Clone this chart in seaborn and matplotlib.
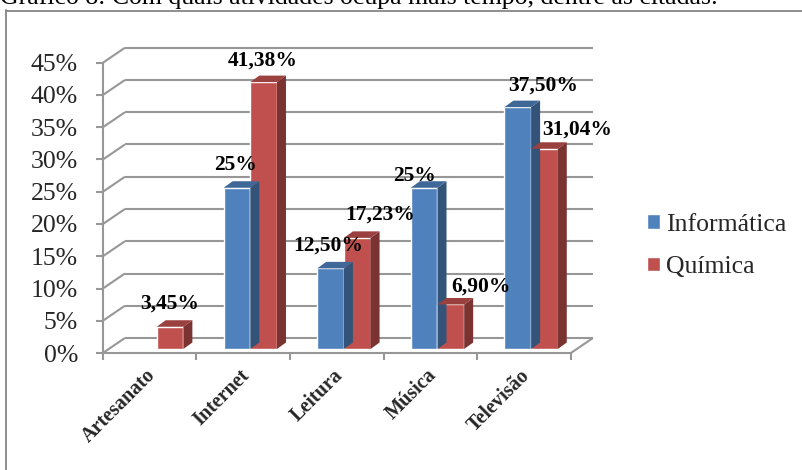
import matplotlib
matplotlib.use("Agg")
import matplotlib.pyplot as plt
from matplotlib.patches import Polygon
from matplotlib.lines import Line2D
from matplotlib.transforms import ScaledTranslation
import numpy as np
import pandas as pd
import seaborn as sns

# ---- data -------------------------------------------------------------
categorias = ["Artesanato", "Internet", "Leitura", "Música", "Televisão"]
cursos = ["Informática", "Química"]
informatica = [0.0, 25.0, 12.50, 25.0, 37.50]
quimica = [3.45, 41.38, 17.23, 6.90, 31.04]
yticks = [0, 5, 10, 15, 20, 25, 30, 35, 40, 45]
titulo = "Gráfico 8: Com quais atividades ocupa mais tempo, dentre as citadas:"

cores = {"Informática": "#4F81BD", "Química": "#C0504D"}

# label nudges in pixels (dx, dy) relative to the top centre of each bar
nudge = {
    "Informática": [(0, 0), (-1, 23), (-2, 23), (-10, 12), (25, 22)],
    "Química": [(0, 23), (-1, 22), (23, 23), (30, 18), (33, 19)],
}

df = pd.DataFrame({
    "atividade": categorias * 2,
    "curso": [cursos[0]] * len(categorias) + [cursos[1]] * len(categorias),
    "valor": informatica + quimica,
})

# ---- figure / geometry -------------------------------------------------
W, H, DPI = 803, 470, 100
sns.set_theme(style="white")
plt.rcParams["font.family"] = ["Liberation Serif", "DejaVu Serif"]

fig = plt.figure(figsize=(W / DPI, H / DPI), dpi=DPI)

XLIM = (-0.7, 4.7)
YLIM = (-3.0, 48.0)
px_x = 93.6      # pixels per category
px_y = 6.45      # pixels per percent
x0_px = 156.7    # pixel column of the first category
y0_px = 349.0    # pixel row of the 0% level of the bars

left = x0_px + XLIM[0] * px_x
right = x0_px + XLIM[1] * px_x
bottom = y0_px - YLIM[0] * px_y
top = y0_px - YLIM[1] * px_y


def axes_rect(dx=0.0, dy=0.0):
    return [(left + dx) / W, 1 - (bottom + dy) / H,
            (right - left) / W, (bottom - top) / H]


ax = fig.add_axes(axes_rect())
ax.set_xlim(*XLIM)
ax.set_ylim(*YLIM)

# depth offsets (in pixels) for the back wall, the front plane and the bars
back_px = (15.0, 11.0)
front_px = (-7.0, -4.0)
depth_px = (9.0, 6.5)


def to_data(d):
    return d[0] / px_x, d[1] / px_y


bx, by = to_data(back_px)
fx, fy = to_data(front_px)
ddx, ddy = to_data(depth_px)

grid_kw = dict(color="#979797", lw=1.5, solid_capstyle="butt", zorder=0.5)

# back wall gridlines and left side wall
for v in yticks:
    ax.plot([-0.5 + bx, 4.5 + bx], [v + by, v + by], **grid_kw)
    ax.plot([-0.5 + fx, -0.5 + bx], [v + fy, v + by], **grid_kw)
# floor right edge
ax.plot([4.5 + fx, 4.5 + bx], [fy, by], **grid_kw)

# ---- bars --------------------------------------------------------------
sns.barplot(data=df, x="atividade", y="valor", hue="curso",
            hue_order=cursos, order=categorias, palette=cores,
            width=0.57, saturation=1, ax=ax, legend=True, zorder=2)
ax.set_xlim(*XLIM)
ax.set_ylim(*YLIM)

for p in ax.patches:
    h = p.get_height()
    if not np.isfinite(h) or h <= 0:
        continue
    xa = p.get_x()
    xb = xa + p.get_width()
    c = np.array(p.get_facecolor()[:3])
    side = Polygon([(xb, 0), (xb + ddx, ddy), (xb + ddx, h + ddy), (xb, h)],
                   closed=True, facecolor=c * 0.64, edgecolor="none", zorder=2)
    topf = Polygon([(xa, h), (xb, h), (xb + ddx, h + ddy), (xa + ddx, h + ddy)],
                   closed=True, facecolor=c * 0.8, edgecolor="none", zorder=2)
    ax.add_patch(side)
    ax.add_patch(topf)


def fmt(v):
    if float(v).is_integer():
        return f"{int(v)}%"
    return f"{v:.2f}".replace(".", ",") + "%"


# value labels
for i, curso in enumerate(cursos):
    vals = informatica if curso == "Informática" else quimica
    cont = ax.containers[i]
    for j, (bar, v) in enumerate(zip(cont, vals)):
        if v <= 0:
            continue
        cx = bar.get_x() + bar.get_width() / 2
        ndx, ndy = nudge[curso][j]
        ax.annotate(fmt(v), (cx, v), xytext=(ndx, ndy),
                    textcoords="offset pixels", ha="center", va="center",
                    fontsize=15.5, fontweight="bold", color="black", zorder=5)

# category labels
ax.set_xticks(range(len(categorias)))
ax.set_xticklabels(categorias, rotation=45, ha="right",
                   rotation_mode="anchor", fontsize=14.5, fontweight="bold")
ax.tick_params(axis="x", length=0, pad=3)
ax.set_yticks([])
ax.set_xlabel("")
ax.set_ylabel("")
for s in ax.spines.values():
    s.set_visible(False)
ax.patch.set_alpha(0)
shift = ScaledTranslation(-11 / DPI, 7 / DPI, fig.dpi_scale_trans)
for tick in ax.xaxis.get_major_ticks():
    tick.label1.set_transform(tick.label1.get_transform() + shift)

# legend
handles, labels = ax.get_legend_handles_labels()
ax.legend(handles, labels, loc="center left",
          bbox_to_anchor=(647 / W, 1 - 246 / H), bbox_transform=fig.transFigure,
          frameon=False, fontsize=18.5, handlelength=0.5, handleheight=0.5,
          handletextpad=0.25, labelspacing=0.8, borderpad=0, borderaxespad=0)

# ---- front plane: value axis and floor edge ----------------------------
axf = fig.add_axes(axes_rect(front_px[0], -front_px[1]), zorder=3)
axf.set_xlim(*XLIM)
axf.set_ylim(*YLIM)
axf.patch.set_alpha(0)
for k in ("top", "right"):
    axf.spines[k].set_visible(False)
axf.spines["left"].set_position(("data", -0.5))
axf.spines["left"].set_bounds(yticks[0], yticks[-1])
axf.spines["bottom"].set_position(("data", 0))
axf.spines["bottom"].set_bounds(-0.5, 4.5)
for k in ("left", "bottom"):
    axf.spines[k].set_color("#979797")
    axf.spines[k].set_linewidth(1.5)
axf.set_yticks(yticks)
axf.set_yticklabels([f"{v}%" for v in yticks])
axf.set_xticks(np.arange(-0.5, 4.6, 1.0))
axf.set_xticklabels([])
axf.tick_params(axis="y", direction="out", length=5, width=1.5,
                color="#979797", pad=13, labelsize=18.5, left=True)
axf.tick_params(axis="x", direction="out", length=5, width=1.5,
                color="#979797", bottom=True)

# ---- frame and title ---------------------------------------------------
fig.add_artist(Line2D([6 / W, 1.0], [1 - 10.5 / H, 1 - 10.5 / H],
                      transform=fig.transFigure, color="#868686", lw=1.3))
fig.add_artist(Line2D([6.5 / W, 6.5 / W], [0.0, 1 - 10 / H],
                      transform=fig.transFigure, color="#868686", lw=1.3))
fig.text(0.0, 1 - 4 / H, titulo, ha="left", va="baseline",
         fontsize=18.5, color="black")

fig.savefig("out.png", dpi=DPI)
